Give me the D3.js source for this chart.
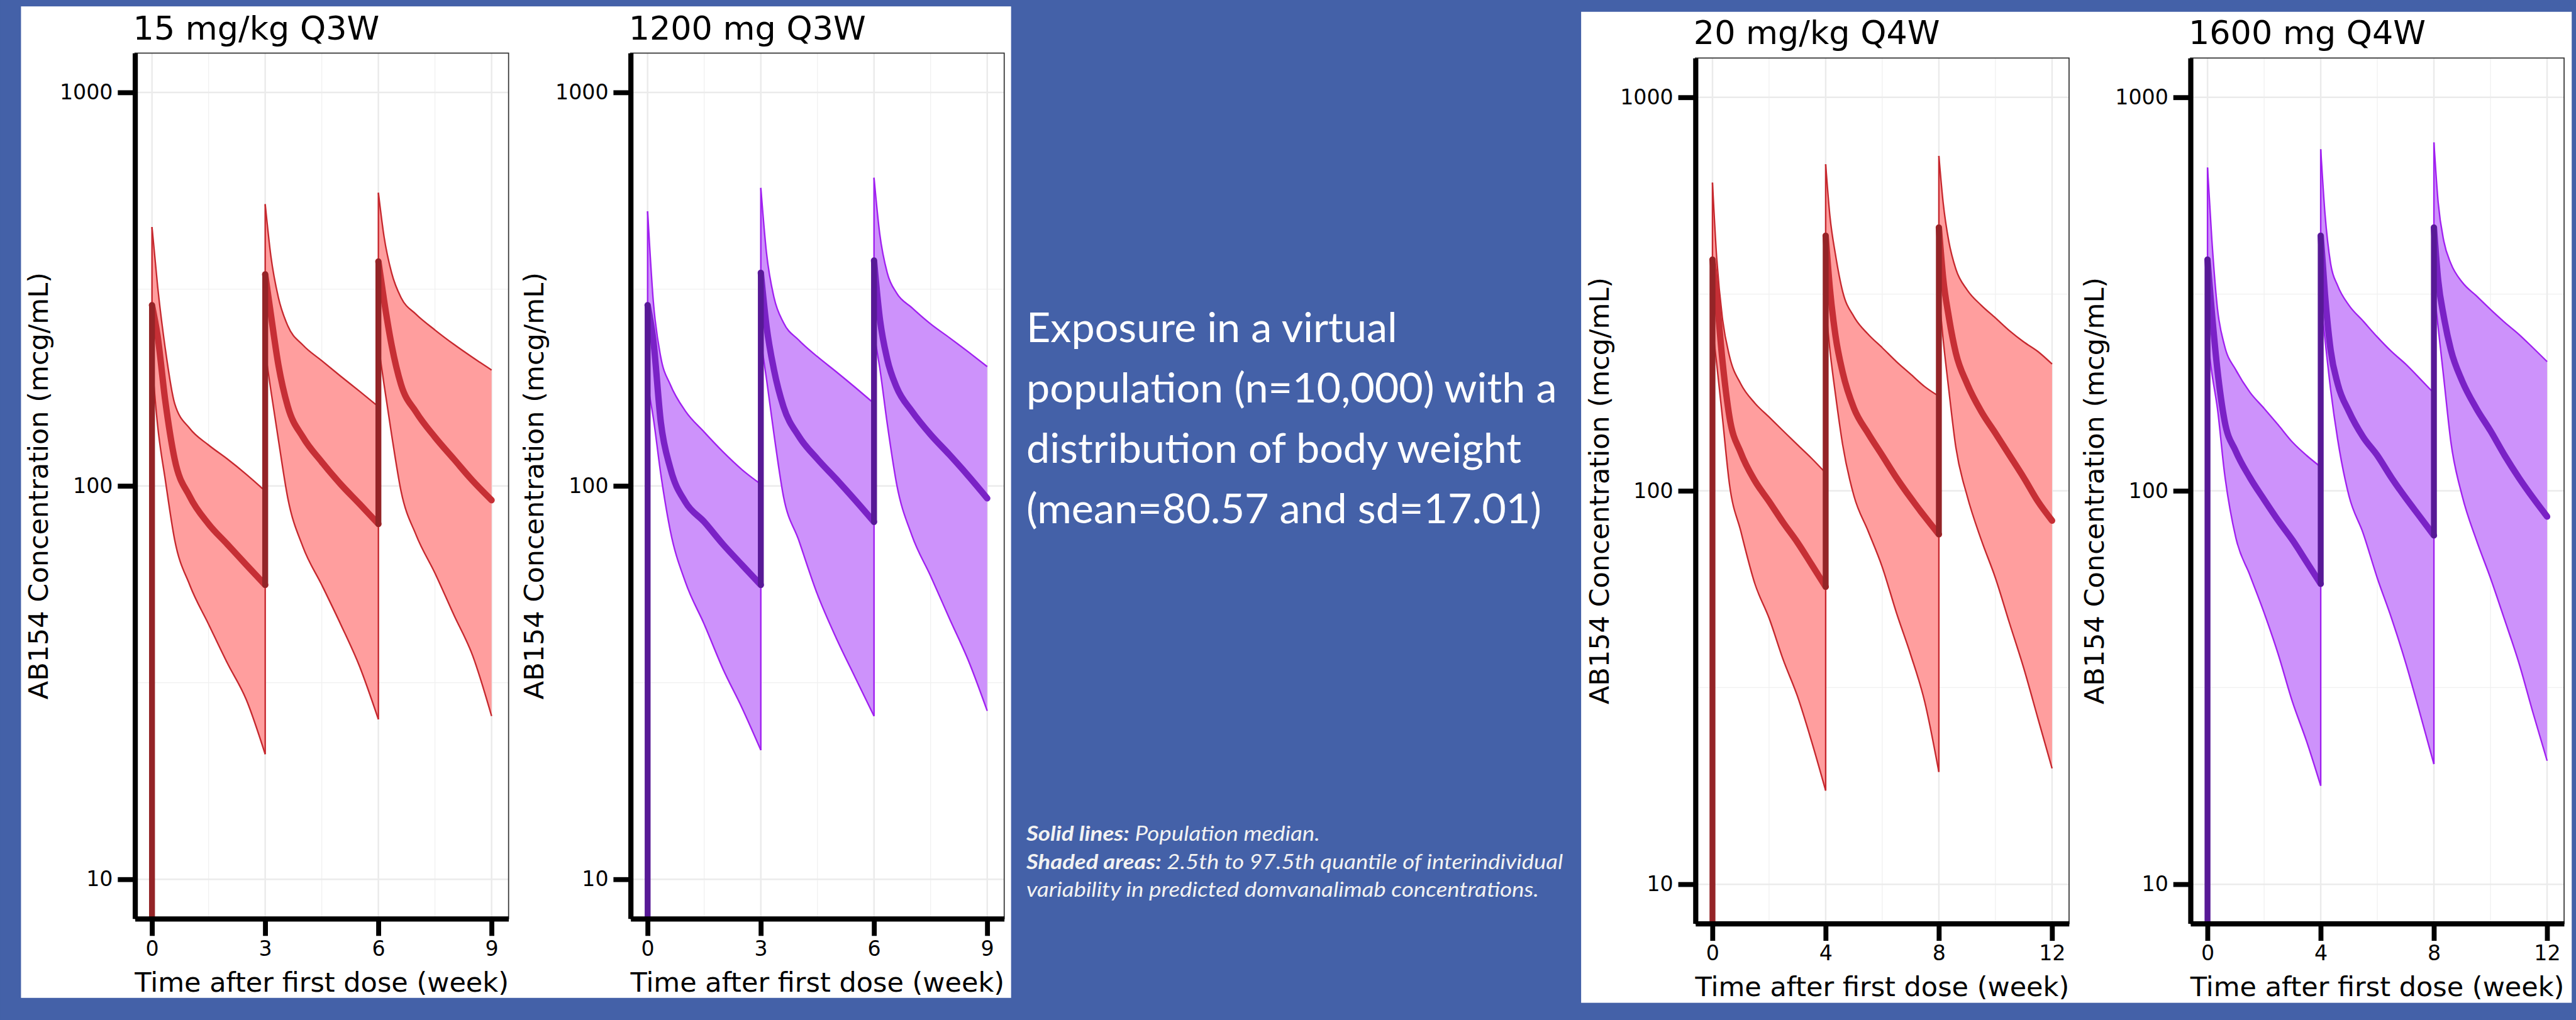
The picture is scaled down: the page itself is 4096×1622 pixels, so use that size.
<!DOCTYPE html>
<html>
<head>
<meta charset="utf-8">
<script src="https://cdn.jsdelivr.net/npm/d3@7"></script>
<style>
  html, body { margin: 0; padding: 0; background: #4461a8; }
  svg { display: block; }
</style>
</head>
<body>
<div id="chart"></div>
<script>
// weeks after each dose at which the curves were read
var cycleWeeksQ3W = [0, 0.15, 0.35, 0.6, 1, 1.5, 2, 2.5, 3];
var cycleWeeksQ4W = [0, 0.15, 0.35, 0.6, 1, 1.5, 2, 2.5, 3, 3.5, 4];

// concentrations (mcg/mL), one row per dose: 97.5th pct, median, 2.5th pct
// 15 mg/kg Q3W
var upper15 = [[455, 321, 224, 162, 140, 127, 117, 107, 97],
               [520, 384, 301, 255, 228, 208, 190, 174, 159],
               [556, 430, 348, 301, 273, 249, 229, 212, 197]];
var median15 = [[288, 240, 165, 117, 94, 80, 71, 63, 56],
                [345, 273, 203, 159, 133, 115, 101, 90, 80],
                [372, 296, 228, 181, 154, 133, 117, 103, 92]];
var lower15 = [[207, 142, 104, 73, 56, 44.5, 35.4, 28.6, 20.8],
               [220, 175, 131, 93, 70, 56, 44.5, 34.8, 25.5],
               [228, 181, 135, 97, 75, 60, 47, 37, 26]];

// 1200 mg Q3W
var upper1200 = [[499, 295, 212, 181, 155, 137, 122, 110, 101],
                 [572, 391, 301, 260, 235, 213, 195, 178, 162],
                 [607, 438, 348, 309, 284, 258, 238, 219, 201]];
var median1200 = [[288, 235, 145, 111, 91, 81, 71, 63, 56],
                  [348, 255, 197, 159, 134, 117, 104, 92, 81],
                  [374, 268, 210, 178, 155, 135, 120, 106, 93]];
var lower1200 = [[181, 149, 107, 77, 57, 44.5, 34.2, 27.3, 21.3],
                 [235, 187, 135, 94, 73, 53, 41, 32.6, 26],
                 [243, 200, 144, 101, 75, 59, 46, 36, 26.8]];

// 20 mg/kg Q4W
var upper20 = [[607, 390, 275, 220, 187, 167, 154, 142, 131, 121, 111],
               [676, 499, 397, 321, 277, 250, 231, 213, 198, 184, 174],
               [710, 541, 431, 366, 324, 296, 275, 255, 239, 226, 210]];
var median20 = [[387, 310, 215, 154, 125, 106, 94, 83, 74, 65, 57],
                [445, 326, 247, 200, 162, 140, 123, 108, 96, 86, 77.5],
                [467, 348, 277, 224, 187, 159, 140, 123, 108, 94, 84]];
var lower20 = [[260, 210, 154, 104, 79, 58, 47.5, 37.2, 30.1, 23.1, 17.3],
               [296, 228, 175, 131, 97, 79, 64, 49, 38.4, 29.1, 19.3],
               [316, 243, 181, 129, 97, 75, 60, 46, 35.4, 26.4, 19.7]];

// 1600 mg Q4W
var upper1600 = [[663, 438, 291, 234, 203, 178, 162, 147, 133, 123, 115],
                 [738, 507, 378, 332, 296, 270, 246, 226, 210, 193, 177],
                 [768, 541, 431, 378, 339, 313, 289, 268, 250, 231, 213]];
var median1600 = [[387, 286, 203, 151, 126, 108, 95, 84, 75, 66, 58],
                  [445, 316, 228, 187, 159, 137, 123, 108, 96, 86, 77],
                  [467, 343, 277, 228, 190, 162, 142, 123, 108, 96, 86]];
var lower1600 = [[243, 200, 162, 111, 76, 61, 49, 38.4, 29.1, 23.1, 17.8],
                 [306, 243, 181, 135, 97, 78, 60, 47.5, 36.6, 27.3, 20.2],
                 [326, 260, 193, 133, 97, 75, 60, 47, 36.6, 27.3, 20.6]];

var yTicks = [10, 100, 1000];
var yMinor = [31.62, 316.2];
var xTicksQ3W = [0, 3, 6, 9], xMinorQ3W = [1.5, 4.5, 7.5];
var xTicksQ4W = [0, 4, 8, 12], xMinorQ4W = [2, 6, 10];

var headline = ["Exposure in a virtual", "population (n=10,000) with a",
                "distribution of body weight", "(mean=80.57 and sd=17.01)"];
var notes = [["Solid lines:", " Population median."],
             ["Shaded areas:", " 2.5th to 97.5th quantile of interindividual"],
             ["", "variability in predicted domvanalimab concentrations."]];

var themes = {
  red:    {fill: "#ff9e9e", edge: "#c6282e", median: "#c62f35", jump: "#942427"},
  purple: {fill: "#cd92fb", edge: "#a020f0", median: "#7a22c6", jump: "#571996"}
};

var panels = [
  {id: "p1", title: "15 mg/kg Q3W", up: upper15, med: median15, lo: lower15, weeks: cycleWeeksQ3W,
   every: 3, ticks: xTicksQ3W, minor: xMinorQ3W, theme: themes.red, left: 273.8, top: 108},
  {id: "p2", title: "1200 mg Q3W", up: upper1200, med: median1200, lo: lower1200, weeks: cycleWeeksQ3W,
   every: 3, ticks: xTicksQ3W, minor: xMinorQ3W, theme: themes.purple, left: 1281.5, top: 108},
  {id: "p3", title: "20 mg/kg Q4W", up: upper20, med: median20, lo: lower20, weeks: cycleWeeksQ4W,
   every: 4, ticks: xTicksQ4W, minor: xMinorQ4W, theme: themes.red, left: 3446.5, top: 118},
  {id: "p4", title: "1600 mg Q4W", up: upper1600, med: median1600, lo: lower1600, weeks: cycleWeeksQ4W,
   every: 4, ticks: xTicksQ4W, minor: xMinorQ4W, theme: themes.purple, left: 4453, top: 118}
];

var W = 5236, H = 2074;
var pw = 759.5, ph = 1760;

var svg = d3.select("#chart").append("svg")
    .attr("width", 4096).attr("height", 1622)
    .attr("viewBox", "0 0 " + W + " " + H);

svg.append("rect").attr("width", W).attr("height", H).attr("fill", "#4461a8");
// the two white figure boxes
svg.append("rect").attr("x", 42).attr("y", 13).attr("width", 2013).attr("height", 2016).attr("fill", "#fff");
svg.append("rect").attr("x", 3214).attr("y", 24).attr("width", 2014).attr("height", 2015).attr("fill", "#fff");

var font = "'DejaVu Sans', sans-serif";

panels.forEach(function(p) {
    var span = p.every * 3;
    var x = d3.scaleLinear().domain([-0.05 * span, span * 1.05]).range([p.left, p.left + pw]);
    var y = d3.scaleLog().domain([Math.pow(10, 0.9), Math.pow(10, 3.1)]).range([p.top + ph, p.top]);
    var bottom = p.top + ph;

    var g = svg.append("g");
    g.append("clipPath").attr("id", "clip-" + p.id)
        .append("rect").attr("x", p.left).attr("y", p.top).attr("width", pw).attr("height", ph);

    // grid
    var grid = g.append("g");
    grid.selectAll(".vmin").data(p.minor).enter().append("line")
        .attr("x1", x).attr("x2", x).attr("y1", p.top).attr("y2", bottom)
        .attr("stroke", "#f0f0f0").attr("stroke-width", 1.6);
    grid.selectAll(".hmin").data(yMinor).enter().append("line")
        .attr("x1", p.left).attr("x2", p.left + pw).attr("y1", y).attr("y2", y)
        .attr("stroke", "#f0f0f0").attr("stroke-width", 1.6);
    grid.selectAll(".vmaj").data(p.ticks).enter().append("line")
        .attr("x1", x).attr("x2", x).attr("y1", p.top).attr("y2", bottom)
        .attr("stroke", "#ebebeb").attr("stroke-width", 3.2);
    grid.selectAll(".hmaj").data(yTicks).enter().append("line")
        .attr("x1", p.left).attr("x2", p.left + pw).attr("y1", y).attr("y2", y)
        .attr("stroke", "#ebebeb").attr("stroke-width", 3.2);

    // one record list per dose
    var cycles = p.med.map(function(row, k) {
        return p.weeks.map(function(w, i) {
            return {t: k * p.every + w, hi: p.up[k][i], mid: row[i], lo: p.lo[k][i]};
        });
    });

    var plot = g.append("g").attr("clip-path", "url(#clip-" + p.id + ")");
    var area = d3.area().x(function(d) { return x(d.t); })
        .y0(function(d) { return y(d.lo); }).y1(function(d) { return y(d.hi); })
        .curve(d3.curveMonotoneX);
    var lineOf = function(key) {
        return d3.line().x(function(d) { return x(d.t); })
            .y(function(d) { return y(d[key]); }).curve(d3.curveMonotoneX);
    };
    var seg = d3.line().x(function(d) { return x(d[0]); }).y(function(d) { return d[1]; });
    var floorY = bottom + 20;

    plot.selectAll(".band").data(cycles).enter().append("path")
        .attr("d", area).attr("fill", p.theme.fill);

    ["hi", "lo"].forEach(function(key) {
        plot.selectAll(".edge-" + key).data(cycles).enter().append("path")
            .attr("d", lineOf(key)).attr("fill", "none")
            .attr("stroke", p.theme.edge).attr("stroke-width", 3);
        // jumps at each dose
        plot.selectAll(".jump-" + key).data(cycles).enter().append("path")
            .attr("d", function(c, k) {
                var from = k === 0 ? floorY : y(cycles[k - 1][cycles[k - 1].length - 1][key]);
                return seg([[c[0].t, from], [c[0].t, y(c[0][key])]]);
            })
            .attr("fill", "none").attr("stroke", p.theme.edge).attr("stroke-width", 3);
    });

    plot.selectAll(".med").data(cycles).enter().append("path")
        .attr("d", lineOf("mid")).attr("fill", "none")
        .attr("stroke", p.theme.median).attr("stroke-width", 13)
        .attr("stroke-linecap", "round").attr("stroke-linejoin", "round");
    plot.selectAll(".medjump").data(cycles).enter().append("path")
        .attr("d", function(c, k) {
            var from = k === 0 ? floorY : y(cycles[k - 1][cycles[k - 1].length - 1].mid);
            return seg([[c[0].t, from], [c[0].t, y(c[0].mid)]]);
        })
        .attr("fill", "none").attr("stroke", p.theme.jump).attr("stroke-width", 12)
        .attr("stroke-linecap", "round");

    // panel border
    g.append("rect").attr("x", p.left).attr("y", p.top).attr("width", pw).attr("height", ph)
        .attr("fill", "none").attr("stroke", "#333").attr("stroke-width", 2.2);

    // axes
    var yAxis = g.append("g").attr("transform", "translate(" + p.left + ",0)")
        .call(d3.axisLeft(y).tickValues(yTicks).tickFormat(d3.format("d"))
            .tickSize(35).tickSizeOuter(0).tickPadding(10));
    var xAxis = g.append("g").attr("transform", "translate(0," + bottom + ")")
        .call(d3.axisBottom(x).tickValues(p.ticks).tickFormat(d3.format("d"))
            .tickSize(35).tickSizeOuter(0).tickPadding(10));
    [yAxis, xAxis].forEach(function(a) {
        a.select(".domain").attr("stroke", "#000").attr("stroke-width", 10.5);
        a.selectAll(".tick line").attr("stroke", "#000").attr("stroke-width", 10);
        a.selectAll(".tick text").attr("fill", "#000")
            .style("font-family", font).style("font-size", "42.5px");
    });

    // titles
    g.append("text").attr("x", p.left - 4).attr("y", p.top - 28)
        .style("font-family", font).style("font-size", "67px").attr("fill", "#000")
        .text(p.title);
    g.append("text").attr("x", p.left + pw / 2).attr("y", bottom + 148)
        .attr("text-anchor", "middle")
        .style("font-family", font).style("font-size", "55px").attr("fill", "#000")
        .text("Time after first dose (week)");
    g.append("text")
        .attr("transform", "translate(" + (p.left - 177) + "," + (p.top + ph / 2) + ") rotate(-90)")
        .attr("text-anchor", "middle")
        .style("font-family", font).style("font-size", "55px").attr("fill", "#000")
        .text("AB154 Concentration (mcg/mL)");
});

// centre text
var mid = svg.append("g");
mid.selectAll(".head").data(headline).enter().append("text")
    .attr("x", 2086).attr("y", function(d, i) { return 695 + i * 123; })
    .style("font-family", "Lato, 'Open Sans', sans-serif").style("font-size", "85px")
    .attr("fill", "#fff").text(function(d) { return d; });

var noteWidths = [597, 1091, 1042];
var note = mid.selectAll(".note").data(notes).enter().append("text")
    .attr("x", 2086).attr("y", function(d, i) { return 1710 + i * 57; })
    .attr("textLength", function(d, i) { return noteWidths[i]; })
    .attr("lengthAdjust", "spacingAndGlyphs")
    .style("font-family", "Lato, 'Open Sans', sans-serif").style("font-size", "42px")
    .style("font-style", "italic").attr("fill", "#f2f2f2");
note.append("tspan").style("font-weight", "bold").text(function(d) { return d[0]; });
note.append("tspan").text(function(d) { return d[1]; });
</script>
</body>
</html>
